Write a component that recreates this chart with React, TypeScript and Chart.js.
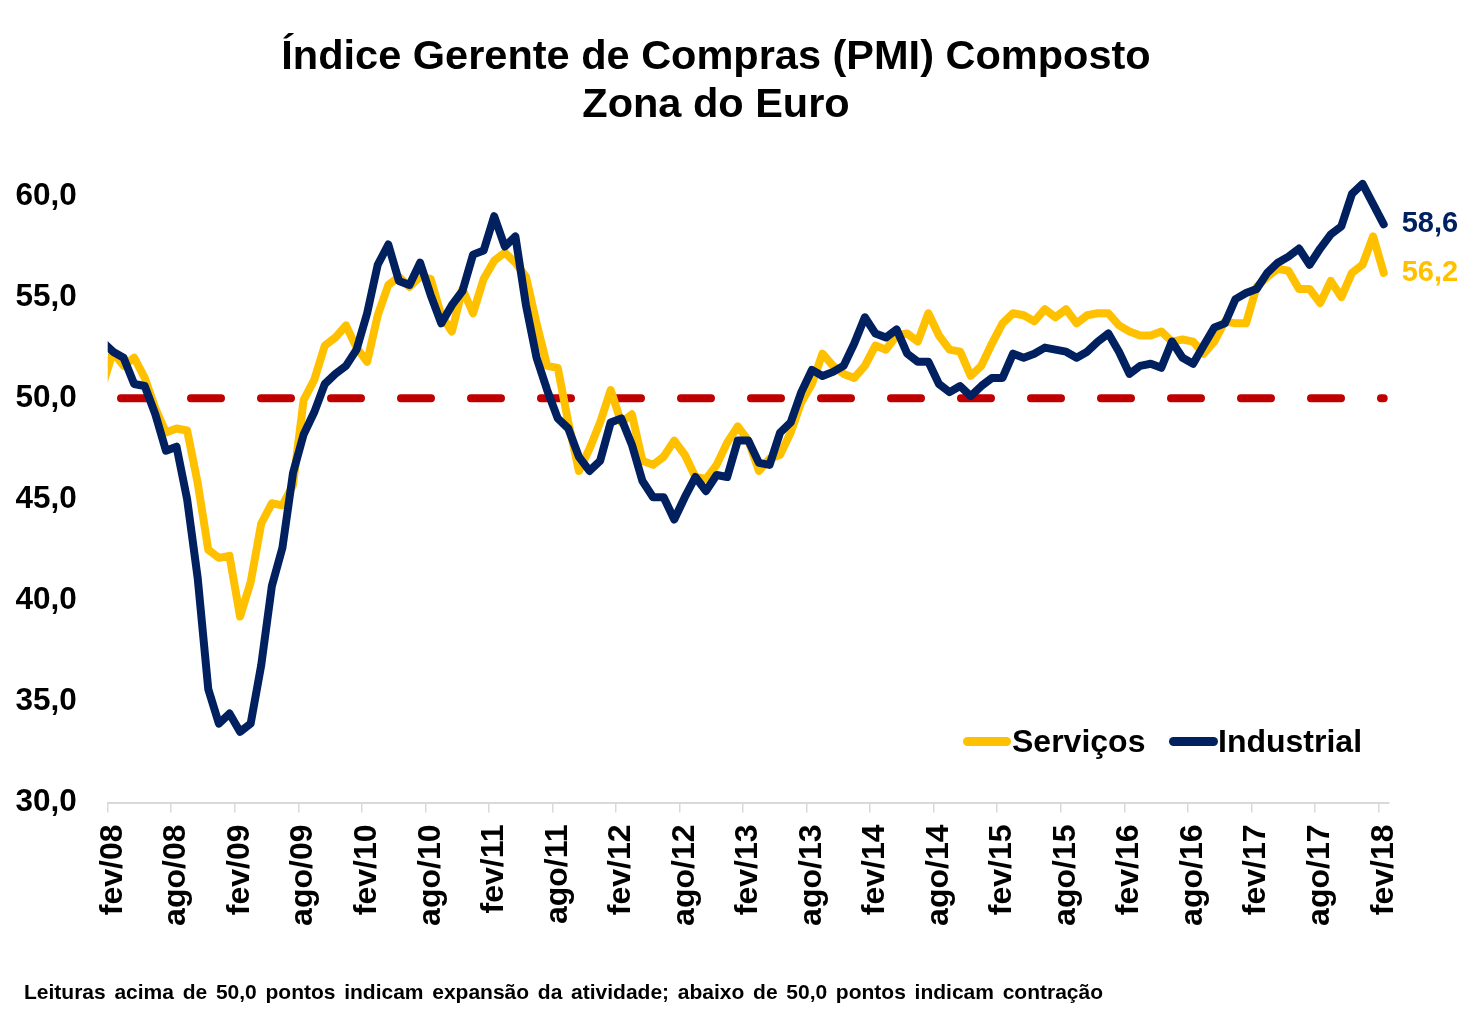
import React, { useEffect, useRef } from 'react';
import { Chart, registerables } from 'chart.js';

Chart.register(...registerables);

// ---------- data ----------
const MONTHS = ['jan', 'fev', 'mar', 'abr', 'mai', 'jun', 'jul', 'ago', 'set', 'out', 'nov', 'dez'];
const YEARS = ['08', '09', '10', '11', '12', '13', '14', '15', '16', '17', '18'];
const LAST_CATEGORY = 'fev/18';
const FIRST_VISIBLE = 'fev/08';
const LABELED_MONTHS = ['fev', 'ago'];

const CATEGORIES: string[] = [];
for (const y of YEARS) {
  for (const m of MONTHS) {
    const c = `${m}/${y}`;
    if (CATEGORIES.length && CATEGORIES[CATEGORIES.length - 1] === LAST_CATEGORY) break;
    CATEGORIES.push(c);
  }
}

const SERVICOS = [
  50.6, 52.3, 51.6, 52.0, 51.0, 49.5, 48.3, 48.5, 48.4, 45.8, 42.5, 42.1,
  42.2, 39.2, 40.9, 43.8, 44.8, 44.7, 45.7, 49.9, 50.9, 52.6, 53.0, 53.6,
  52.5, 51.8, 54.1, 55.6, 56.0, 55.5, 56.0, 55.9, 54.1, 53.3, 55.4, 54.2,
  55.9, 56.8, 57.2, 56.7, 56.0, 53.7, 51.6, 51.5, 48.8, 46.4, 47.5, 48.8,
  50.4, 48.8, 49.2, 46.9, 46.7, 47.1, 47.9, 47.2, 46.1, 46.0, 46.7, 47.8,
  48.6, 47.9, 46.4, 47.0, 47.2, 48.3, 49.8, 50.7, 52.2, 51.6, 51.2, 51.0,
  51.6, 52.6, 52.4, 53.1, 53.2, 52.8, 54.2, 53.1, 52.4, 52.3, 51.1, 51.6,
  52.7, 53.7, 54.2, 54.1, 53.8, 54.4, 54.0, 54.4, 53.7, 54.1, 54.2, 54.2,
  53.6, 53.3, 53.1, 53.1, 53.3, 52.8, 52.9, 52.8, 52.2, 52.8, 53.8, 53.7,
  53.7, 55.5, 56.0, 56.4, 56.3, 55.4, 55.4, 54.7, 55.8, 55.0, 56.2, 56.6,
  58.0, 56.2,
];

const INDUSTRIAL = [
  52.8, 52.3, 52.0, 50.7, 50.6, 49.2, 47.4, 47.6, 45.0, 41.1, 35.6, 33.9,
  34.4, 33.5, 33.9, 36.8, 40.7, 42.6, 46.3, 48.2, 49.3, 50.7, 51.2, 51.6,
  52.4, 54.2, 56.6, 57.6, 55.8, 55.6, 56.7, 55.1, 53.7, 54.6, 55.3, 57.1,
  57.3, 59.0, 57.5, 58.0, 54.6, 52.0, 50.4, 49.0, 48.5, 47.1, 46.4, 46.9,
  48.8, 49.0, 47.7, 45.9, 45.1, 45.1, 44.0, 45.1, 46.1, 45.4, 46.2, 46.1,
  47.9, 47.9, 46.8, 46.7, 48.3, 48.8, 50.3, 51.4, 51.1, 51.3, 51.6, 52.7,
  54.0, 53.2, 53.0, 53.4, 52.2, 51.8, 51.8, 50.7, 50.3, 50.6, 50.1, 50.6,
  51.0, 51.0, 52.2, 52.0, 52.2, 52.5, 52.4, 52.3, 52.0, 52.3, 52.8, 53.2,
  52.3, 51.2, 51.6, 51.7, 51.5, 52.8, 52.0, 51.7, 52.6, 53.5, 53.7, 54.9,
  55.2, 55.4, 56.2, 56.7, 57.0, 57.4, 56.6, 57.4, 58.1, 58.5, 60.1, 60.6,
  59.6, 58.6,
];

const Y_MIN = 30;
const Y_MAX = 60;
const Y_STEP = 5;
const THRESHOLD = 50;

const TITLE_LINES = ['Índice Gerente de Compras (PMI) Composto', 'Zona do Euro'];
const SERIES_NAMES = ['Serviços', 'Industrial'];
const FOOTNOTE =
  'Leituras acima de 50,0 pontos indicam expansão da atividade; abaixo de 50,0 pontos indicam contração';

// ---------- styles ----------
const FONT = '"Liberation Sans", Arial, Helvetica, sans-serif';
const YELLOW = '#FFC000';
const NAVY = '#002060';
const RED = '#C00000';
const AXIS_GRAY = '#d9d9d9';

const fmt = (v: number) => v.toFixed(1).replace('.', ',');
const isLabeled = (lbl?: string) => !!lbl && LABELED_MONTHS.includes(lbl.slice(0, 3));

const thresholdPlugin = {
  id: 'thresholdLine',
  beforeDatasetsDraw(chart: any) {
    const { ctx, scales } = chart;
    const x = scales.x;
    const y = scales.y;
    const x0 = x.getPixelForValue(x.min);
    const x1 = x.getPixelForValue(x.max);
    const yy = y.getPixelForValue(THRESHOLD);
    ctx.save();
    ctx.strokeStyle = RED;
    ctx.lineWidth = 8;
    ctx.lineCap = 'round';
    ctx.setLineDash([30, 40]);
    ctx.lineDashOffset = 62;
    ctx.beginPath();
    ctx.moveTo(x0, yy);
    ctx.lineTo(x1, yy);
    ctx.stroke();
    ctx.restore();
  },
};

const endLabelPlugin = {
  id: 'endLabels',
  afterDatasetsDraw(chart: any) {
    const { ctx, scales } = chart;
    ctx.save();
    ctx.font = `bold 29px ${FONT}`;
    ctx.textAlign = 'left';
    ctx.textBaseline = 'middle';
    chart.data.datasets.forEach((ds: any) => {
      const i = ds.data.length - 1;
      const v = ds.data[i];
      const px = scales.x.getPixelForValue(i);
      const py = scales.y.getPixelForValue(v);
      ctx.fillStyle = ds.borderColor;
      ctx.fillText(fmt(v), px + 18, py);
    });
    ctx.restore();
  },
};

const FOOT_SIZE = 21;
const FOOT_WIDTH = 1079;

function footnoteSpacing(): number {
  const c = document.createElement('canvas').getContext('2d');
  if (!c) return 2;
  c.font = `bold ${FOOT_SIZE}px ${FONT}`;
  const w = c.measureText(FOOTNOTE).width;
  const gaps = FOOTNOTE.split(' ').length - 1;
  return (FOOT_WIDTH - w) / gaps;
}

export default function App() {
  const canvasRef = useRef<HTMLCanvasElement | null>(null);

  useEffect(() => {
    if (!canvasRef.current) return;
    Chart.defaults.font.family = FONT;
    const chart = new Chart(canvasRef.current, {
      type: 'line',
      data: {
        labels: CATEGORIES,
        datasets: [
          {
            label: SERIES_NAMES[0],
            data: SERVICOS,
            borderColor: YELLOW,
            backgroundColor: YELLOW,
            borderWidth: 8,
            pointRadius: 0,
            tension: 0,
            borderJoinStyle: 'round',
            borderCapStyle: 'round',
            order: 1,
            clip: { left: 0, top: false, right: false, bottom: false } as any,
          },
          {
            label: SERIES_NAMES[1],
            data: INDUSTRIAL,
            borderColor: NAVY,
            backgroundColor: NAVY,
            borderWidth: 8,
            pointRadius: 0,
            tension: 0,
            borderJoinStyle: 'round',
            borderCapStyle: 'round',
            order: 0,
            clip: { left: 0, top: false, right: false, bottom: false } as any,
          },
        ],
      },
      options: {
        animation: false,
        responsive: false,
        maintainAspectRatio: false,
        devicePixelRatio: 1,
        layout: { padding: { left: 0, top: 196, right: 90, bottom: 19.5 } },
        plugins: {
          legend: { display: false },
          tooltip: { enabled: false },
          title: { display: false },
        },
        scales: {
          x: {
            type: 'category',
            min: FIRST_VISIBLE,
            offset: true,
            afterFit: (s: any) => {
              s.height = 200;
            },
            grid: {
              offset: true,
              drawOnChartArea: false,
              drawTicks: true,
              tickLength: 10,
              lineWidth: 1.5,
              color: (c: any) =>
                c.tick && isLabeled(CATEGORIES[c.tick.value]) ? AXIS_GRAY : 'rgba(0,0,0,0)',
            },
            border: { display: true, color: AXIS_GRAY, width: 2 },
            ticks: {
              autoSkip: false,
              minRotation: 90,
              maxRotation: 90,
              padding: 12,
              color: '#000',
              font: { size: 32, weight: 'bold', family: FONT },
              callback: function (this: any, value: any) {
                const l = this.getLabelForValue(value);
                return isLabeled(l) ? l : '';
              },
            },
          },
          y: {
            min: Y_MIN,
            max: Y_MAX,
            afterFit: (s: any) => {
              s.width = 107.7;
            },
            grid: { display: false, drawTicks: false },
            border: { display: false },
            ticks: {
              stepSize: Y_STEP,
              padding: 31,
              color: '#000',
              font: { size: 31.5, weight: 'bold', family: FONT },
              callback: (v: any) => fmt(Number(v)),
            },
          },
        },
      },
      plugins: [thresholdPlugin, endLabelPlugin],
    } as any);
    return () => chart.destroy();
  }, []);

  const spacing = footnoteSpacing();

  return (
    <div
      style={{
        position: 'absolute',
        left: 0,
        top: 0,
        width: 1479,
        height: 1022,
        background: '#fff',
        fontFamily: FONT,
        overflow: 'hidden',
      }}
    >
      <canvas ref={canvasRef} width={1479} height={1022} style={{ position: 'absolute', left: 0, top: 0 }} />
      <div
        style={{
          position: 'absolute',
          left: 0,
          top: 31,
          width: 1432,
          textAlign: 'center',
          fontWeight: 'bold',
          fontSize: 41.5,
          lineHeight: '48px',
          color: '#000',
        }}
      >
        {TITLE_LINES.map((t) => (
          <div key={t}>{t}</div>
        ))}
      </div>
      {/* legend */}
      <div style={{ position: 'absolute', left: 963, top: 737, width: 48, height: 9, borderRadius: 5, background: YELLOW }} />
      <div
        style={{ position: 'absolute', left: 1012, top: 725, fontSize: 32, lineHeight: '32px', fontWeight: 'bold', color: '#000', whiteSpace: 'nowrap' }}
      >
        {SERIES_NAMES[0]}
      </div>
      <div style={{ position: 'absolute', left: 1169, top: 737, width: 49, height: 9, borderRadius: 5, background: NAVY }} />
      <div
        style={{ position: 'absolute', left: 1218, top: 725, fontSize: 32, lineHeight: '32px', fontWeight: 'bold', color: '#000', whiteSpace: 'nowrap' }}
      >
        {SERIES_NAMES[1]}
      </div>
      <div
        style={{
          position: 'absolute',
          left: 24,
          top: 981,
          fontSize: FOOT_SIZE,
          lineHeight: '21px',
          fontWeight: 'bold',
          color: '#000',
          whiteSpace: 'nowrap',
          wordSpacing: `${spacing}px`,
        }}
      >
        {FOOTNOTE}
      </div>
    </div>
  );
}
